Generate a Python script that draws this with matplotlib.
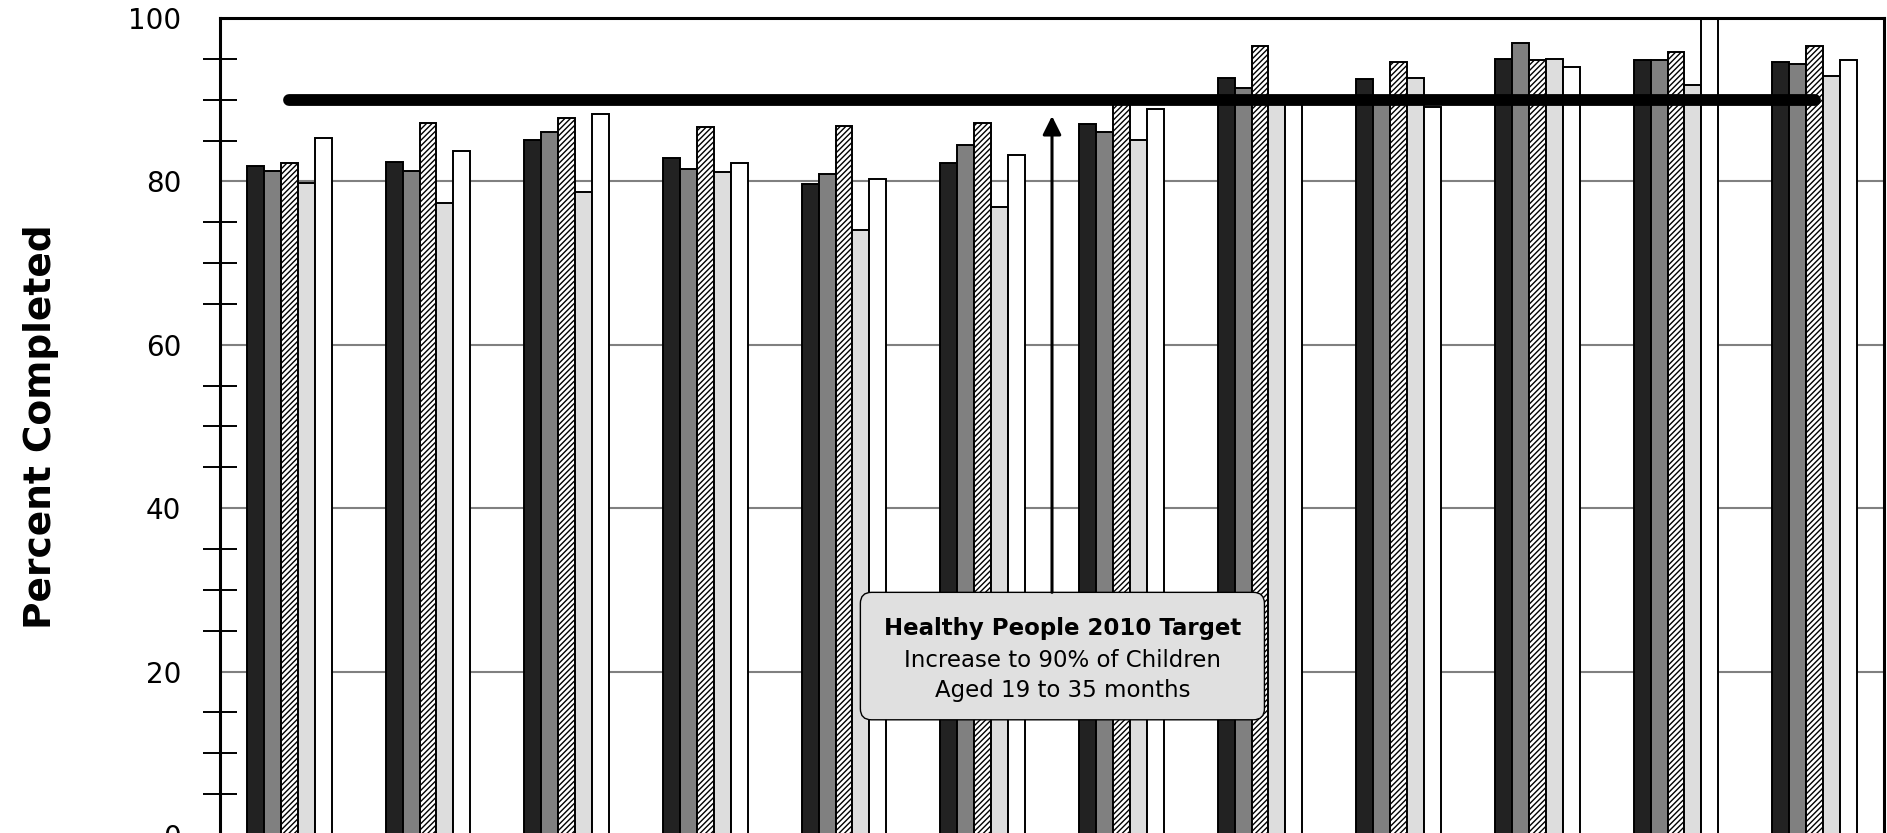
import numpy as np
import matplotlib
matplotlib.use("Agg")
import matplotlib.pyplot as plt
from matplotlib.patches import FancyBboxPatch
from matplotlib.ticker import MultipleLocator

# percent completed per group, five series each
dark_vals = [81.9, 82.4, 85.1, 82.9, 79.7, 82.2, 87.0, 92.6, 92.5, 95.0, 94.8, 94.6]
gray_vals = [81.3, 81.3, 86.0, 81.5, 80.9, 84.4, 86.1, 91.4, 90.0, 97.0, 94.9, 94.4]
hatch_vals = [82.3, 87.2, 87.8, 86.7, 86.8, 87.1, 90.3, 96.6, 94.6, 94.9, 95.8, 96.6]
light_vals = [79.8, 77.3, 78.7, 81.2, 74.0, 76.9, 85.1, 90.0, 92.6, 95.0, 91.8, 92.9]
white_vals = [85.3, 83.7, 88.2, 82.2, 80.3, 83.2, 88.9, 90.2, 89.1, 94.0, 101.0, 94.9]
target = 90

series = [dark_vals, gray_vals, hatch_vals, light_vals, white_vals]
colors = ["#222222", "#808080", "white", "#dddddd", "white"]
hatches = [None, None, "//////", None, None]

plt.rcParams["font.family"] = ["DejaVu Sans"]
plt.rcParams["hatch.linewidth"] = 1.0

fig = plt.figure(figsize=(18.87, 8.33), dpi=100)
ax = fig.add_axes([0.1166, -0.0024, 0.8818, 0.9808])

x = np.arange(len(dark_vals))
w = 0.122
for k, (vals, c, h) in enumerate(zip(series, colors, hatches)):
    ax.bar(x + (k - 2) * w, vals, width=w, color=c, edgecolor="black",
           linewidth=1.4, hatch=h, zorder=2)

ax.plot([x[0], x[-1]], [target, target], color="black", lw=8.5,
        solid_capstyle="round", zorder=4)

ax.set_xlim(-0.5, len(x) - 0.5)
ax.set_ylim(0, 100)
ax.set_xticks([])
ax.yaxis.set_major_locator(MultipleLocator(20))
ax.yaxis.set_minor_locator(MultipleLocator(5))
ax.tick_params(axis="y", which="major", length=0, pad=28, labelsize=20)
ax.tick_params(axis="y", which="minor", direction="inout", length=24, width=1.4)
ax.grid(axis="y", which="major", color="#808080", lw=1.5, zorder=1)
for s in ax.spines.values():
    s.set_linewidth(2.2)
ax.set_ylabel("Percent Completed", fontsize=27, fontweight="bold", labelpad=50)

# target annotation
box = FancyBboxPatch((4.118, 14.1), 7.032 - 4.118, 29.7 - 14.1,
                     boxstyle="round,pad=0,rounding_size=0.08",
                     mutation_aspect=17, facecolor="#e0e0e0",
                     edgecolor="black", lw=1.0, zorder=5)
ax.add_patch(box)
ax.annotate("", xy=(5.5, 88.0), xytext=(5.5, 29.7),
            arrowprops=dict(arrowstyle="-|>", color="black", lw=2.2,
                            mutation_scale=28, shrinkA=0, shrinkB=0),
            zorder=5)
ax.text(5.575, 25.3, "Healthy People 2010 Target", ha="center", va="center",
        fontsize=16.5, fontweight="bold", zorder=6)
ax.text(5.575, 21.4, "Increase to 90% of Children", ha="center", va="center",
        fontsize=16.5, zorder=6)
ax.text(5.575, 17.7, "Aged 19 to 35 months", ha="center", va="center",
        fontsize=16.5, zorder=6)

fig.savefig("out.png", dpi=100)
